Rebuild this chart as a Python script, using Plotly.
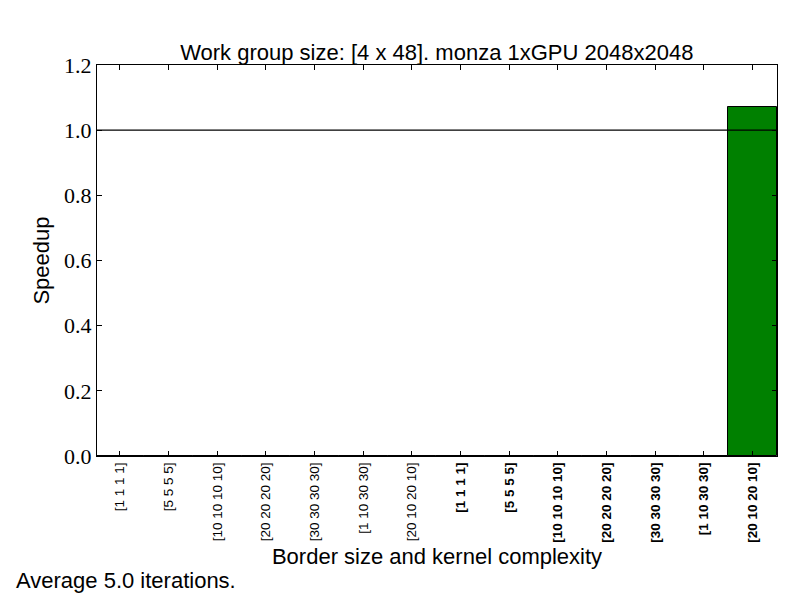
import plotly.graph_objects as go

categories = ["[1 1 1 1]", "[5 5 5 5]", "[10 10 10 10]", "[20 20 20 20]", "[30 30 30 30]",
              "[1 10 30 30]", "[20 10 20 10]",
              "[1 1 1 1]", "[5 5 5 5]", "[10 10 10 10]", "[20 20 20 20]", "[30 30 30 30]",
              "[1 10 30 30]", "[20 10 20 10]"]
bold_flags = [False] * 7 + [True] * 7
speedup = [0, 0, 0, 0, 0, 0, 0, 0, 0, 0, 0, 0, 0, 1.07]
y_ticks = [0.0, 0.2, 0.4, 0.6, 0.8, 1.0, 1.2]

xs = list(range(len(categories)))
ticktext = [f"<b>{c}</b>" if b else c for c, b in zip(categories, bold_flags)]

fig = go.Figure()
fig.add_trace(go.Bar(x=xs, y=speedup, width=1.0, marker=dict(color="#008000", line=dict(color="black", width=1)),
                     showlegend=False))
fig.add_shape(type="line", xref="paper", x0=0, x1=1, yref="y", y0=1.0, y1=1.0,
              line=dict(color="black", width=1.2))

fig.update_layout(
    width=800, height=600,
    margin=dict(l=97, r=23, t=65, b=144),
    plot_bgcolor="white", paper_bgcolor="white",
    title=dict(text="Work group size: [4 x 48]. monza 1xGPU 2048x2048", x=0.546, xanchor="center",
               y=0.913, yanchor="middle", font=dict(family="Liberation Sans", size=22, color="black")),
    bargap=0,
    xaxis=dict(range=[-0.47, 13.5], tickmode="array", tickvals=xs, ticktext=ticktext,
               tickangle=-90, ticks="inside", ticklen=5, tickcolor="black", mirror="ticks",
               showline=True, linecolor="black", linewidth=1, showgrid=False, zeroline=False,
               tickfont=dict(family="Liberation Sans", size=13.5, color="black"),
               title=dict(text="Border size and kernel complexity", standoff=6,
                          font=dict(family="Liberation Sans", size=22, color="black"))),
    yaxis=dict(range=[0, 1.2], tickmode="array", tickvals=y_ticks,
               ticktext=[f"{v:.1f}" for v in y_ticks],
               ticks="inside", ticklen=5, tickcolor="black", mirror="ticks",
               showline=True, linecolor="black", linewidth=1, showgrid=False, zeroline=False,
               tickfont=dict(family="Liberation Serif", size=22, color="black"),
               title=dict(text="Speedup", standoff=8,
                          font=dict(family="Liberation Sans", size=22, color="black"))),
)
fig.add_annotation(text="Average 5.0 iterations.", xref="paper", yref="paper",
                   x=-0.122, y=-0.318, xanchor="left", yanchor="middle", showarrow=False,
                   font=dict(family="Liberation Sans", size=22, color="black"))

fig.write_html("out.html")
